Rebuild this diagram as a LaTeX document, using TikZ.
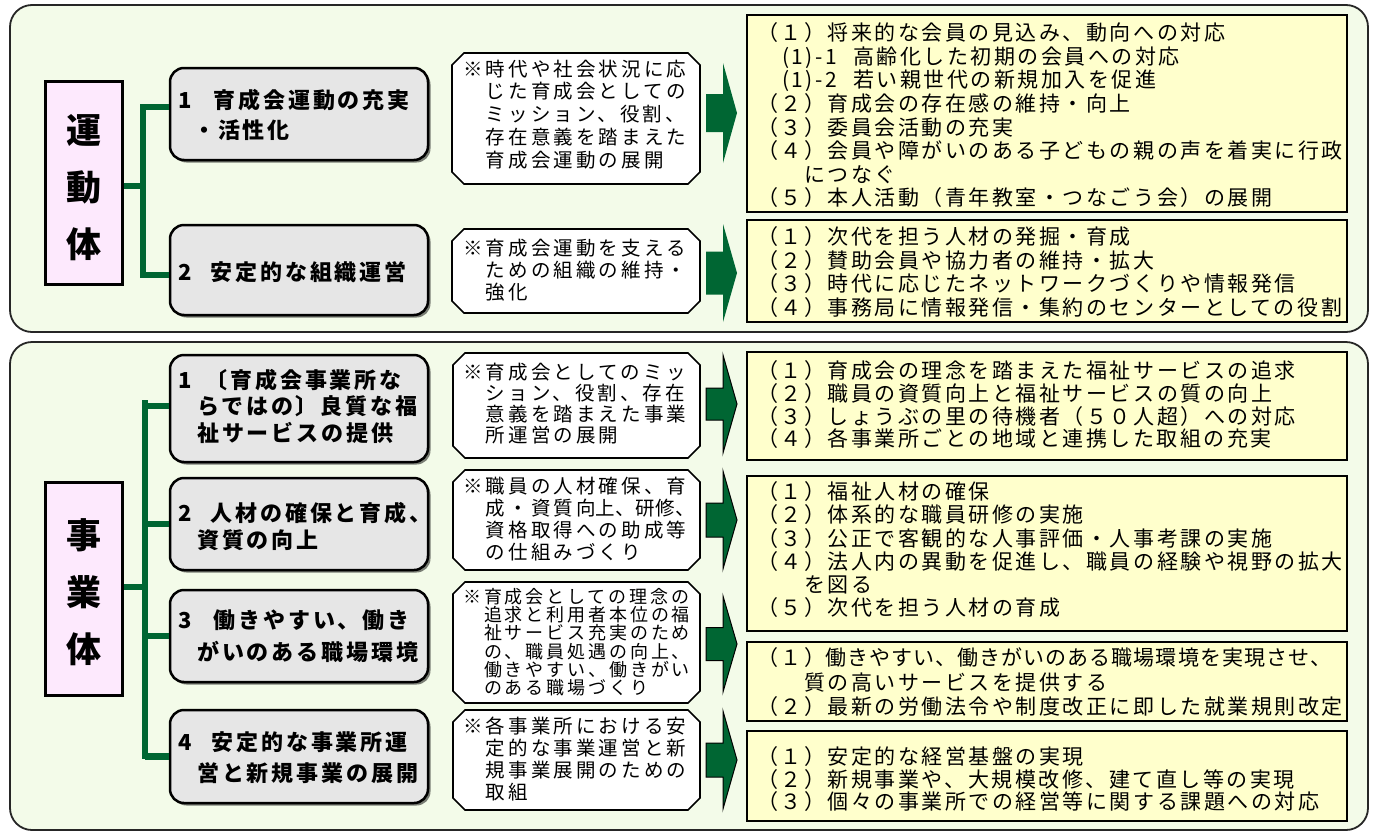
\documentclass[tikz,border=0pt]{standalone}
\usepackage{fontspec}
\setmainfont{Noto Sans CJK JP}
\newfontfamily\jpR{Noto Sans CJK JP}[LetterSpace=12]
\newfontfamily\jpM{Noto Sans CJK JP}[LetterSpace=16]
\newfontfamily\jpG{Noto Sans CJK JP}[LetterSpace=13]
\usetikzlibrary{shadows}
\definecolor{panelbg}{RGB}{243,251,233}
\definecolor{labpink}{RGB}{253,233,253}
\definecolor{gfill}{RGB}{230,230,230}
\definecolor{yfill}{RGB}{255,255,204}
\definecolor{dgreen}{RGB}{0,102,51}
\tikzset{
  panel/.style={draw=black!85, line width=1.8pt, fill=panelbg, rounded corners=22pt, inner sep=0},
  lab/.style={draw=black, line width=3pt, fill=labpink, minimum width=77pt, inner sep=0},
  gbox/.style={draw=black, line width=2.5pt, fill=gfill, rounded corners=14pt, minimum width=258pt, inner sep=0,
    drop shadow={shadow xshift=2.5pt, shadow yshift=-2.5pt, opacity=0.5, fill=black}},
  ybox/.style={draw=black, line width=1.8pt, fill=yfill, minimum width=600pt, inner sep=0},
  octo/.style={draw=black, line width=1.6pt, fill=white},
  garrowtop/.style={fill=dgreen},
  garrowbot/.style={fill=dgreen, draw=black, line width=1pt},
  branch/.style={draw=dgreen, line width=6.5pt},
  rtxt/.style={anchor=base west, inner sep=0, align=left, font=\jpR\fontsize{21}{#1}\selectfont},
  mtxt/.style={anchor=base west, inner sep=0, align=left, font=\jpM\fontsize{19.5}{#1}\selectfont},
  gtxt/.style={anchor=base west, inner sep=0, align=left, font=\jpG\bfseries\fontsize{22}{#1}\selectfont},
  ltxt/.style={inner sep=0, align=center, font=\bfseries\fontsize{35}{57}\selectfont},
}
\newcommand\octa[4]{\path[octo] (#1+12,#2) -- (#3-12,#2) -- (#3,#2+12) -- (#3,#4-12) -- (#3-12,#4) -- (#1+12,#4) -- (#1,#4-12) -- (#1,#2+12) -- cycle;}
\newcommand\garw[5]{\path[#5] (706,#2-#3) -- (723,#2-#3) -- (723,#2-#4) -- (737,#2) -- (723,#2+#4) -- (723,#2+#3) -- (706,#2+#3) -- cycle;}
\begin{document}
\begin{tikzpicture}[x=1pt,y=-1pt]
\useasboundingbox (0,0) rectangle (1374,833);
% panels
\node[panel, minimum width=1358pt, minimum height=327pt] (P1) at (689,168.5) {};
\node[panel, minimum width=1358pt, minimum height=488pt] (P2) at (689,586) {};
% left labels
\node[lab, minimum height=203pt] (L1) at (83.5,182.5) {};
\node[ltxt] (L1t) at (83.5,188) {運\\動\\体};
\node[lab, minimum height=213pt] (L2) at (83.5,588.5) {};
\node[ltxt] (L2t) at (83.5,592) {事\\業\\体};
% gray boxes
\node[gbox, minimum height=92pt] (G1) at (299,114) {};
\node[gbox, minimum height=90pt] (G2) at (299,270) {};
\node[gbox, minimum height=107pt] (G3) at (299,408.5) {};
\node[gbox, minimum height=92pt] (G4) at (299,524) {};
\node[gbox, minimum height=92pt] (G5) at (299,636) {};
\node[gbox, minimum height=93pt] (G6) at (299,756.5) {};
% branches top
\coordinate (T0) at (143,186);
\coordinate (Ta) at (143,107);
\coordinate (Tb) at (143,275);
\draw[branch] (L1.east |- T0) -- (T0);
\draw[branch, line cap=rect] (Ta) -- (Tb);
\draw[branch] (Ta) -- (Ta -| G1.west);
\draw[branch] (Tb) -- (Tb -| G2.west);
% branches bottom
\coordinate (B0) at (145,587);
\coordinate (Ba) at (145,403);
\coordinate (Bb) at (145,756);
\coordinate (B3) at (145,406);
\draw[branch] (L2.east |- B0) -- (B0);
\draw[branch, line cap=rect] (Ba) -- (Bb);
\draw[branch] (B3) -- (B3 -| G3.west);
\draw[branch] (B0 |- G4.west) -- (G4.west);
\draw[branch] (B0 |- G5.west) -- (G5.west);
\draw[branch] (B0 |- G6.west) -- (G6.west);
% gray texts (anchor = baseline of last line)
\node[gtxt=30] (G1t) at (178,138) {1\hspace{22pt}育成会運動の充実\\\hspace*{15pt}・活性化};
\node[gtxt=27] (G2t) at (178,280) {2\hspace{19pt}安定的な組織運営};
\node[gtxt=26.5] (G3t) at (178,441) {1\hspace{14pt}〔育成会事業所な\\\hspace*{19pt}らではの〕良質な福\\\hspace*{19pt}祉サービスの提供};
\node[gtxt=27] (G4t) at (178,548) {2\hspace{19pt}人材の確保と育成、\\\hspace*{19pt}資質の向上};
\node[gtxt=32] (G5t) at (178,660) {3\hspace{22pt}働きやすい、働き\\\hspace*{19pt}がいのある職場環境};
\node[gtxt=31] (G6t) at (178,781) {4\hspace{20pt}安定的な事業所運\\\hspace*{19pt}営と新規事業の展開};
% octagons
\octa{452}{53}{700}{184}
\octa{452}{229}{700}{313}
\octa{453}{353}{700}{458}
\octa{453}{470}{700}{570}
\octa{453}{582}{700}{703}
\octa{453}{710}{700}{810}
\node[mtxt=22.75] (M1) at (463,167) {※時代や社会状況に応\\　じた育成会としての\\　ミッション、役割、\\　存在意義を踏まえた\\　育成会運動の展開};
\node[mtxt=22] (M2) at (463,299) {※育成会運動を支える\\　ための組織の維持・\\　強化};
\node[mtxt=21] (M3) at (463,442) {※育成会としてのミッ\\　ション、役割、存在\\　意義を踏まえた事業\\　所運営の展開};
\node[mtxt=21.7] (M4) at (463,559) {※職員の人材確保、育\\　成・資質向{\addfontfeature{LetterSpace=2}上、研修、}\\　資格取得への助成等\\　の仕組みづくり};
\node[mtxt=18.2, font=\jpM\fontsize{18}{18.2}\selectfont] (M5) at (463,694.5) {※育成会としての理念の\\　追求と利用者本位の福\\　祉サービス充実のため\\　の、職員処遇の向上、\\　働きやすい、働きがい\\　のある職場づくり};
\node[mtxt=21.7] (M6) at (463,799) {※各事業所における安\\　定的な事業運営と新\\　規事業展開のための\\　取組};
% arrows
\garw{A1}{113}{19}{50}{garrowtop}
\garw{A2}{273}{21.5}{49}{garrowtop}
\garw{A3}{404}{16}{49}{garrowbot}
\garw{A4}{520}{17}{49}{garrowbot}
\garw{A5}{644}{16.5}{48}{garrowbot}
\garw{A6}{760}{17}{49}{garrowbot}
% right boxes
\node[ybox, minimum height=197pt] (R1) at (1047,113.5) {};
\node[ybox, minimum height=102pt] (R2) at (1047,271) {};
\node[ybox, minimum height=108pt] (R3) at (1047,406) {};
\node[ybox, minimum height=155pt] (R4) at (1047,553.5) {};
\node[ybox, minimum height=79pt] (R5) at (1047,681.5) {};
\node[ybox, minimum height=90pt] (R6) at (1047,776) {};
\node[rtxt=23.6] (R1t) at (757,205.8) {（１）将来的な会員の見込み、動向への対応\\\hspace*{25pt}(1)-1\hspace*{16pt}高齢化した初期の会員への対応\\\hspace*{25pt}(1)-2\hspace*{16pt}若い親世代の新規加入を促進\\（２）育成会の存在感の維持・向上\\（３）委員会活動の充実\\（４）会員や障がいのある子どもの親の声を着実に行政\\　　につなぐ\\（５）本人活動（青年教室・つなごう会）の展開};
\node[rtxt=23.6] (R2t) at (757,315.4) {（１）次代を担う人材の発掘・育成\\（２）賛助会員や協力者の維持・拡大\\（３）時代に応じたネットワークづくりや情報発信\\（４）事務局に情報発信・集約のセンターとしての役割};
\node[rtxt=22.7] (R3t) at (757,446.7) {（１）育成会の理念を踏まえた福祉サービスの追求\\（２）職員の資質向上と福祉サービスの質の向上\\（３）しょうぶの里の待機者（５０人超）への対応\\（４）各事業所ごとの地域と連携した取組の充実};
\node[rtxt=23.2] (R4t) at (757,615.6) {（１）福祉人材の確保\\（２）体系的な職員研修の実施\\（３）公正で客観的な人事評価・人事考課の実施\\（４）法人内の異動を促進し、職員の経験や視野の拡大\\　　を図る\\（５）次代を担う人材の育成};
\node[rtxt=24.5] (R5t) at (757,714.6) {（１）{\addfontfeature{LetterSpace=5}働きやすい、働きがいのある職場環境を実現させ、}\\　　質の高いサービスを提供する\\（２）最新の労働法令や制度改正に即した就業規則改定};
\node[rtxt=22.5] (R6t) at (757,809.6) {（１）安定的な経営基盤の実現\\（２）新規事業や、大規模改修、建て直し等の実現\\（３）個々の事業所での経営等に関する課題への対応};
\end{tikzpicture}
\end{document}
